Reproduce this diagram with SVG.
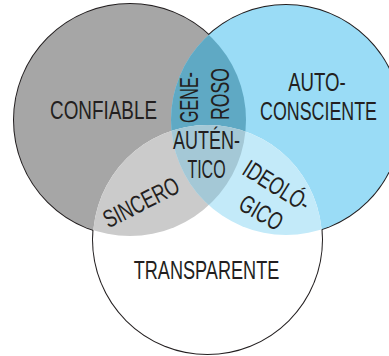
<svg xmlns="http://www.w3.org/2000/svg" width="389" height="356" viewBox="0 0 389 356">
  <style>
    .lbl { font-family: "Liberation Sans", Arial, sans-serif; font-size: 25px; fill: #231f20; text-anchor: middle; }
    .ring { fill: none; stroke: #231f20; stroke-width: 2; }
  </style>
  <defs>
    <clipPath id="cGray"><circle cx="130" cy="120" r="116"/></clipPath>
    <clipPath id="cBlue"><circle cx="286" cy="120" r="115"/></clipPath>
  </defs>
  <rect width="389" height="356" fill="#ffffff"/>
  <g id="outlines">
    <circle class="ring" cx="130" cy="120" r="116"/>
    <circle class="ring" cx="286" cy="120" r="115"/>
    <circle class="ring" cx="207.5" cy="239.5" r="114.5"/>
  </g>
  <g id="node-confiable">
    <circle cx="130" cy="120" r="116" fill="#a6a6a6"/>
  </g>
  <g id="node-autoconsciente">
    <circle cx="286" cy="120" r="115" fill="#9adcf6"/>
  </g>
  <g id="node-transparente">
    <circle cx="207.5" cy="239.5" r="114.5" fill="#ffffff"/>
  </g>
  <g id="overlap-generoso">
    <circle cx="286" cy="120" r="115" fill="#5fa9c4" clip-path="url(#cGray)"/>
  </g>
  <g id="overlap-sincero">
    <circle cx="207.5" cy="239.5" r="114.5" fill="#cbcbcb" clip-path="url(#cGray)"/>
  </g>
  <g id="overlap-ideologico">
    <circle cx="207.5" cy="239.5" r="114.5" fill="#c3eaf9" clip-path="url(#cBlue)"/>
  </g>
  <g id="overlap-autentico">
    <g clip-path="url(#cBlue)">
      <circle cx="207.5" cy="239.5" r="114.5" fill="#a4c8d6" clip-path="url(#cGray)"/>
    </g>
  </g>
  <g id="labels">
    <text class="lbl" transform="translate(103.5,118.5) scale(0.755,1)">CONFIABLE</text>
    <text class="lbl" transform="translate(317,90.5) scale(0.746,1)">AUTO-</text>
    <text class="lbl" transform="translate(318.5,119.5) scale(0.714,1)">CONSCIENTE</text>
    <text class="lbl" transform="translate(206.5,279) scale(0.725,1)">TRANSPARENTE</text>
    <text class="lbl" transform="translate(206.5,148.5) scale(0.72,1)">AUTÉN-</text>
    <text class="lbl" transform="translate(206.5,178) scale(0.64,1)">TICO</text>
    <text class="lbl" transform="translate(198,97.5) rotate(-90) scale(0.644,1)">GENE-</text>
    <text class="lbl" transform="translate(229,94) rotate(-90) scale(0.706,1)">ROSO</text>
    <text class="lbl" transform="translate(145,210) rotate(-27) scale(0.72,1)">SINCERO</text>
    <text class="lbl" transform="translate(272,193) rotate(32) scale(0.72,1)">IDEOLÓ-</text>
    <text class="lbl" transform="translate(257,220) rotate(30) scale(0.72,1)">GICO</text>
  </g>
</svg>
